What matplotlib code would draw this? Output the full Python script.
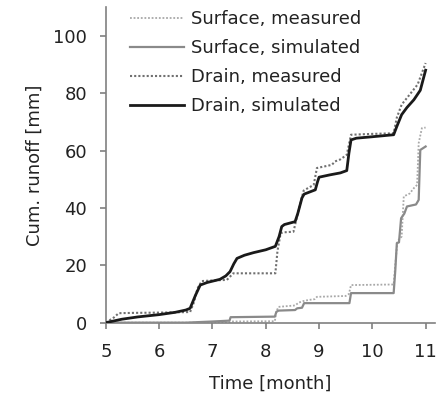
import matplotlib
matplotlib.use("Agg")
import matplotlib.pyplot as plt

plt.rcParams['font.family'] = ['DejaVu Sans']

# Drain, simulated
drain_sim_t = [5.0, 5.3, 5.6, 6.0, 6.3, 6.5, 6.58, 6.68, 6.77, 6.9, 7.14, 7.25, 7.33, 7.4, 7.46, 7.6, 7.77, 8.0, 8.18, 8.25, 8.3, 8.35, 8.55, 8.6, 8.68, 8.72, 8.93, 8.97, 9.0, 9.2, 9.4, 9.52, 9.56, 9.6, 9.7, 10.0, 10.4, 10.46, 10.55, 10.65, 10.78, 10.9, 11.0]
drain_sim_v = [0.0, 1.2, 2.0, 2.8, 3.6, 4.4, 5.0, 9.5, 13.1, 14.0, 15.1, 16.3, 17.8, 20.5, 22.4, 23.5, 24.4, 25.4, 26.6, 30.0, 33.5, 34.2, 35.2, 38.0, 43.5, 44.8, 46.3, 49.0, 50.7, 51.5, 52.2, 53.0, 59.0, 63.7, 64.3, 64.8, 65.5, 68.4, 72.5, 75.0, 77.7, 81.0, 88.0]

# Drain, measured
drain_meas_t = [5.0, 5.15, 5.24, 5.5, 6.0, 6.58, 6.65, 6.72, 6.8, 7.0, 7.27, 7.39, 7.5, 8.18, 8.22, 8.28, 8.35, 8.52, 8.6, 8.71, 8.8, 8.9, 8.96, 9.24, 9.3, 9.4, 9.52, 9.56, 9.6, 10.0, 10.4, 10.46, 10.55, 10.7, 10.85, 11.0]
drain_meas_v = [0.0, 1.8, 3.3, 3.4, 3.5, 3.7, 7.0, 12.0, 14.5, 14.7, 14.9, 17.2, 17.2, 17.2, 25.0, 31.2, 31.5, 31.7, 38.0, 46.0, 47.0, 48.0, 53.9, 55.0, 56.2, 56.9, 58.5, 62.0, 65.5, 65.8, 66.0, 71.5, 76.0, 79.5, 83.0, 90.5]

# Surface, simulated
surf_sim_t = [5.0, 6.5, 7.0, 7.32, 7.34, 8.17, 8.2, 8.24, 8.55, 8.59, 8.68, 8.72, 9.57, 9.6, 10.4, 10.43, 10.46, 10.5, 10.54, 10.6, 10.65, 10.82, 10.87, 10.9, 11.0]
surf_sim_v = [0.0, 0.0, 0.4, 0.7, 1.9, 2.1, 3.8, 4.2, 4.4, 5.0, 5.2, 6.8, 6.8, 10.3, 10.3, 18.0, 27.7, 28.0, 36.4, 38.0, 40.5, 41.2, 42.8, 60.2, 61.4]

# Surface, measured
surf_meas_t = [5.0, 7.3, 7.35, 8.17, 8.2, 8.24, 8.55, 8.62, 8.7, 8.8, 8.92, 8.96, 9.5, 9.56, 9.6, 10.4, 10.43, 10.47, 10.55, 10.59, 10.7, 10.78, 10.84, 10.87, 10.93, 11.0]
surf_meas_v = [0.0, 0.0, 0.4, 0.5, 4.0, 5.5, 6.0, 7.0, 7.5, 7.9, 8.2, 9.0, 9.3, 10.0, 13.1, 13.3, 20.0, 28.3, 30.0, 44.0, 45.0, 46.9, 48.0, 62.6, 67.8, 68.0]

labels = ["Surface, measured", "Surface, simulated", "Drain, measured", "Drain, simulated"]
x_ticks = [5, 6, 7, 8, 9, 10, 11]
y_ticks = [0, 20, 40, 60, 80, 100]

fig = plt.figure(figsize=(4.45, 3.93), dpi=100)
ax = fig.add_axes([0.238, 0.179, 0.740, 0.803])

ax.plot(surf_meas_t, surf_meas_v, color='#a8a8a8', lw=1.3, ls=(0, (1, 1)), label=labels[0], zorder=2)
ax.plot(surf_sim_t, surf_sim_v, color='#8a8a8a', lw=1.6, ls='-', label=labels[1], zorder=3)
ax.plot(drain_meas_t, drain_meas_v, color='#707070', lw=1.5, ls=(0, (1, 1)), label=labels[2], zorder=4)
ax.plot(drain_sim_t, drain_sim_v, color='#1a1a1a', lw=2.0, ls='-', label=labels[3], zorder=5)

ax.set_xlim(5, 11.18)
ax.set_ylim(0, 110)
ax.set_xticks(x_ticks)
ax.set_yticks(y_ticks)
for s in ['top', 'right']:
    ax.spines[s].set_visible(False)
for s in ['left', 'bottom']:
    ax.spines[s].set_color('#808080')
    ax.spines[s].set_linewidth(1.2)
ax.tick_params(direction='out', length=4.5, width=1.2, color='#808080', labelsize=13, labelcolor='#222222')
ax.tick_params(axis='x', pad=10)
ax.tick_params(axis='y', pad=9)

ax.set_xlabel("Time [month]", fontsize=13, color='#222222', labelpad=10)
ax.set_ylabel("Cum. runoff [mm]", fontsize=13, color='#222222', labelpad=7)

leg = ax.legend(loc='upper left', bbox_to_anchor=(0.05, 1.014), frameon=False, fontsize=13,
                handlelength=3.0, handletextpad=0.4, labelspacing=0.62, borderaxespad=0.0)
for t in leg.get_texts():
    t.set_color('#222222')

fig.savefig("out.png", dpi=100)
